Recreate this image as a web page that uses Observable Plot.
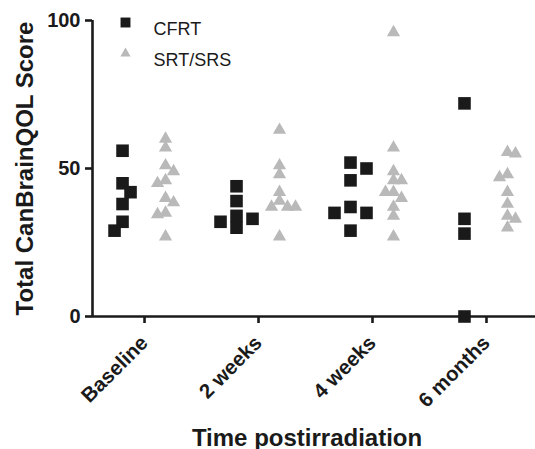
<!DOCTYPE html>
<html>
<head>
<meta charset="utf-8">
<script src="https://cdn.jsdelivr.net/npm/d3@7"></script>
<script src="https://cdn.jsdelivr.net/npm/@observablehq/plot@0.6"></script>
<style>
  html, body { margin: 0; padding: 0; background: #fff; }
  #chart svg { display: block; }
</style>
</head>
<body>
<div id="chart"></div>
<script>
// ---- data ----
const categories = ["Baseline", "2 weeks", "4 weeks", "6 months"];
const seriesNames = ["CFRT", "SRT/SRS"];
const yTicks = [0, 50, 100];

const cfrtBaseline = [56, 45, 42, 38, 32, 29];
const cfrt2weeks   = [44, 39, 34, 33, 32, 30];
const cfrt4weeks   = [52, 50, 46, 37, 35, 35, 29];
const cfrt6months  = [72, 33, 28, 0];

const srtBaseline = [60, 57, 51, 49, 46, 45, 40, 38.5, 35, 34.5, 27];
const srt2weeks   = [63, 51, 48, 42, 39, 37, 37, 37, 27];
const srt4weeks   = [96, 57, 49, 46, 46, 42, 42, 40, 37, 34, 27];
const srt6months  = [55.5, 55, 48, 47, 42, 38, 34, 33, 30];

const cfrtGroups = [cfrtBaseline, cfrt2weeks, cfrt4weeks, cfrt6months];
const srtGroups  = [srtBaseline, srt2weeks, srt4weeks, srt6months];

// ---- layout ----
const W = 535, H = 449;
const mL = 92, mR = 0, mT = 20, mB = 133;
const xDomain = [-0.4565, 3.43];
const pxPerX = (W - mL - mR) / (xDomain[1] - xDomain[0]);
const pxPerY = (H - mT - mB) / 100;

// simple beeswarm: spreads overlapping points sideways, alternating sides (computed, not typed)
function swarm(values, cat, series, center, D) {
  const step = 8;
  const pts = values.map(v => ({v, cat, series})).sort((a, b) => b.v - a.v);
  const placed = [];
  let side = 1;
  for (const p of pts) {
    const py = p.v * pxPerY;
    const ok = off => placed.every(q => Math.hypot(q.off - off, q.py - py) >= D);
    let chosen = null;
    if (ok(0)) chosen = 0;
    for (let k = 1; chosen === null && k < 10; k++) {
      if (ok(side * k * step)) { chosen = side * k * step; side = -side; }
      else if (ok(-side * k * step)) { chosen = -side * k * step; }
    }
    p.off = chosen; p.py = py;
    placed.push(p);
  }
  return pts.map(p => ({...p, x: cat + (center + p.off) / pxPerX}));
}

const cfrtPts = cfrtGroups.flatMap((vals, i) => swarm(vals, i, seriesNames[0], -22, 11));
const srtPts  = srtGroups.flatMap((vals, i) => swarm(vals, i, seriesNames[1], 21, 8));

const ink = "#1a1a1a", gray = "#b9b9b9";
const font = "'Liberation Sans', Arial, Helvetica, sans-serif";

const chart = Plot.plot({
  width: W, height: H,
  marginLeft: mL, marginRight: mR, marginTop: mT, marginBottom: mB,
  style: {fontFamily: font, color: ink, background: "#fff", overflow: "visible"},
  x: {domain: xDomain, axis: null},
  y: {domain: [0, 100], axis: null},
  marks: [
    Plot.ruleY([0], {stroke: ink, strokeWidth: 2.6}),
    Plot.ruleX([xDomain[0]], {stroke: ink, strokeWidth: 2.6}),
    Plot.axisY({ticks: yTicks, tickSize: 7, tickPadding: 5, strokeWidth: 2.6, stroke: ink,
                fontSize: 20, fontWeight: "bold", label: null, fill: ink}),
    Plot.axisX({ticks: [0, 1, 2, 3], tickFormat: i => categories[i], tickSize: 7, tickPadding: 16,
                tickRotate: -45, strokeWidth: 2.6, stroke: ink,
                fontSize: 20.5, fontWeight: "bold", label: null, fill: ink}),
    Plot.text(["Time postirradiation"], {text: d => d, frameAnchor: "bottom", lineAnchor: "bottom",
                dx: -7, dy: 129, fontSize: 24, fontWeight: "bold", fill: ink}),
    Plot.text(["Total CanBrainQOL Score"], {text: d => d, frameAnchor: "left", textAnchor: "middle",
                lineAnchor: "bottom", rotate: -90, dx: -60, fontSize: 24, fontWeight: "bold", fill: ink}),
    Plot.dot(srtPts, {x: "x", y: "v", symbol: "triangle", r: 4.9, fill: gray}),
    Plot.dot(cfrtPts, {x: "x", y: "v", symbol: "square", r: 7.1, fill: ink}),
    // legend
    Plot.dot([seriesNames[0]], {frameAnchor: "top-left", dx: 33, dy: 2, symbol: "square", r: 5.6, fill: ink}),
    Plot.dot([seriesNames[1]], {frameAnchor: "top-left", dx: 33, dy: 33, symbol: "triangle", r: 3.8, fill: gray}),
    Plot.text([seriesNames[0]], {text: d => d, frameAnchor: "top-left", dx: 61, dy: 2, textAnchor: "start",
                fontSize: 18, fill: ink}),
    Plot.text([seriesNames[1]], {text: d => d, frameAnchor: "top-left", dx: 61, dy: 33, textAnchor: "start",
                fontSize: 18, fill: ink})
  ]
});
document.getElementById("chart").appendChild(chart);
</script>
</body>
</html>
